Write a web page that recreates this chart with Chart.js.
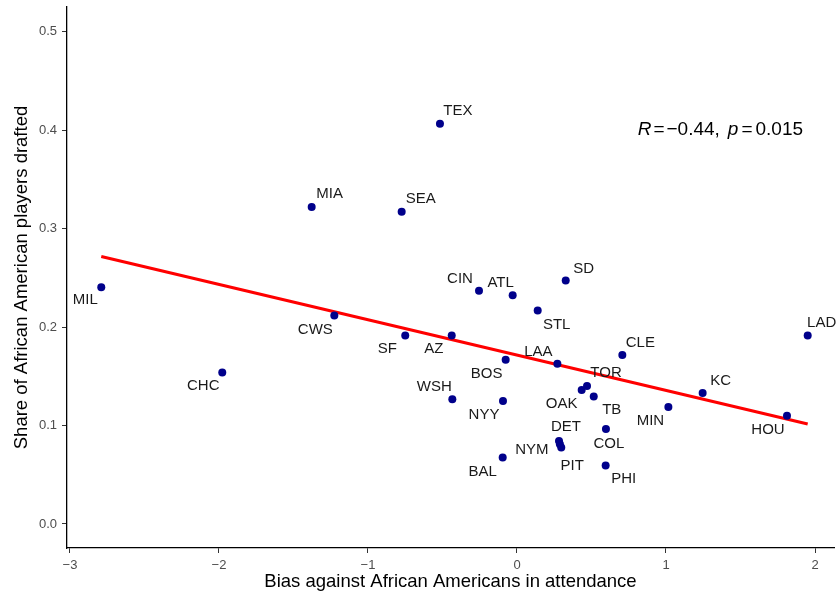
<!DOCTYPE html>
<html>
<head>
<meta charset="utf-8">
<script src="https://cdn.jsdelivr.net/npm/chart.js@4/dist/chart.umd.min.js"></script>
<style>
  html, body { margin: 0; padding: 0; background: #fff; }
  #wrap { width: 838px; height: 596px; position: relative; }
</style>
</head>
<body>
<div id="wrap"><canvas id="scatterChart"></canvas></div>
<script>
// team data
const teams = ['MIL','MIA','SEA','TEX','CIN','ATL','SD','CWS','SF','CHC','AZ','STL','BOS','LAA','CLE',
    'LAD','TOR','OAK','TB','KC','WSH','NYY','MIN','HOU','COL','DET','PIT','NYM','BAL','PHI'];
const bias = [-2.79,-1.378,-0.774,-0.517,-0.255,-0.029,0.327,-1.226,-0.75,-1.978,-0.438,0.139,-0.076,0.271,0.707,
    1.951,0.470,0.434,0.515,1.246,-0.434,-0.094,1.016,1.812,0.597,0.282,0.297,0.288,-0.096,0.595];
const share = [0.2405,0.322,0.317,0.4065,0.2368,0.2324,0.2473,0.2117,0.1914,0.1538,0.1914,0.2168,0.1667,0.1626,0.1717,
    0.1914,0.140,0.136,0.1294,0.1331,0.1267,0.125,0.1189,0.1098,0.0965,0.0843,0.0776,0.081,0.0674,0.0593];

// fitted line end points
const fitX = [-2.79, 1.951];
const fitY = [0.2717, 0.1016];

const xTicks = [-3, -2, -1, 0, 1, 2];
const yTicks = [0.0, 0.1, 0.2, 0.3, 0.4, 0.5];

const statText = { r: '-0.44', p: '0.015' };

// label offsets in pixels (like ggrepel put them)
const labelOffsets = {
    MIL: [-16, 13], MIA: [18, -13], SEA: [19, -13], TEX: [18, -13], CIN: [-19, -12], ATL: [-12, -12],
    SD: [18, -12], CWS: [-19, 14], SF: [-18, 13], CHC: [-19, 13], AZ: [-18, 13], STL: [19, 14],
    BOS: [-19, 14], LAA: [-19, -12], CLE: [18, -12], LAD: [14, -13], TOR: [19, -13], OAK: [-20, 14],
    TB: [18, 13], KC: [18, -12], WSH: [-18, -12], NYY: [-19, 14], MIN: [-18, 14], HOU: [-19, 14],
    COL: [3, 15], DET: [7, -14], PIT: [11, 18], NYM: [-28, 6], BAL: [-20, 14], PHI: [18, 13]
};

const FONT = "'Liberation Sans', Arial, Helvetica, sans-serif";
const minus = s => String(s).replace('-', '\u2212');

const teamLabels = {
    id: 'teamLabels',
    afterDatasetsDraw(chart) {
        const ctx = chart.ctx;
        const meta = chart.getDatasetMeta(1);
        ctx.save();
        ctx.font = '15px ' + FONT;
        ctx.fillStyle = '#1a1a1a';
        ctx.textAlign = 'center';
        ctx.textBaseline = 'middle';
        meta.data.forEach((pt, i) => {
            const off = labelOffsets[teams[i]] || [0, -12];
            ctx.fillText(teams[i], pt.x + off[0], pt.y + off[1]);
        });
        ctx.restore();
    }
};

const statLabel = {
    id: 'statLabel',
    afterDatasetsDraw(chart) {
        const ctx = chart.ctx;
        const xs = chart.scales.x, ys = chart.scales.y;
        let x = xs.getPixelForValue(0.81);
        const y = ys.getPixelForValue(0.40);
        // [text, italic, gap after]
        const parts = [
            ['R', true, 2], ['=', false, 2], [minus(statText.r) + ',', false, 8],
            ['p', true, 3], ['=', false, 3], [statText.p, false, 0]
        ];
        ctx.save();
        ctx.fillStyle = '#000';
        ctx.textBaseline = 'middle';
        ctx.textAlign = 'left';
        parts.forEach(([t, it, gap]) => {
            ctx.font = (it ? 'italic ' : '') + '19px ' + FONT;
            ctx.fillText(t, x, y);
            x += ctx.measureText(t).width + gap;
        });
        ctx.restore();
    }
};

const ctx = document.getElementById('scatterChart').getContext('2d');

new Chart(ctx, {
    type: 'scatter',
    data: {
        datasets: [
            {
                type: 'line',
                label: 'fit',
                data: fitX.map((x, i) => ({ x: x, y: fitY[i] })),
                borderColor: '#ff0000',
                borderWidth: 3,
                pointRadius: 0,
                fill: false,
                order: 2
            },
            {
                label: 'teams',
                data: bias.map((x, i) => ({ x: x, y: share[i] })),
                backgroundColor: '#00008b',
                borderColor: '#00008b',
                borderWidth: 0,
                pointRadius: 4,
                order: 1
            }
        ]
    },
    options: {
        responsive: true,
        maintainAspectRatio: false,
        animation: false,
        layout: { padding: { top: 7, right: 0, left: 0, bottom: 0 } },
        plugins: {
            legend: { display: false },
            tooltip: { enabled: false }
        },
        scales: {
            x: {
                type: 'linear',
                min: -3.02,
                max: 2.1275,
                afterBuildTicks: s => { s.ticks = xTicks.map(v => ({ value: v })); },
                afterFit: s => { s.height = 48; s.paddingLeft = 0; s.paddingRight = 0; },
                border: { display: true, color: '#000', width: 1.3 },
                grid: { display: true, drawOnChartArea: false, drawTicks: true, tickLength: 5, color: '#333' },
                ticks: {
                    color: '#4d4d4d',
                    padding: 5,
                    font: { family: FONT, size: 13 },
                    callback: v => minus(v)
                },
                title: {
                    display: true,
                    text: 'Bias against African Americans in attendance',
                    color: '#000',
                    font: { family: FONT, size: 18.5 },
                    padding: { top: 0, bottom: 3 }
                }
            },
            y: {
                type: 'linear',
                min: -0.0244,
                max: 0.525,
                afterBuildTicks: s => { s.ticks = yTicks.map(v => ({ value: v })); },
                afterFit: s => { s.width = 67; s.paddingTop = 0; s.paddingBottom = 0; },
                border: { display: true, color: '#000', width: 1.3 },
                grid: { display: true, drawOnChartArea: false, drawTicks: true, tickLength: 5, color: '#333' },
                ticks: {
                    color: '#4d4d4d',
                    padding: 5,
                    font: { family: FONT, size: 13 },
                    callback: v => v.toFixed(1)
                },
                title: {
                    display: true,
                    text: 'Share of African American players drafted',
                    color: '#000',
                    font: { family: FONT, size: 18.5 },
                    padding: { top: 11, bottom: 0 }
                }
            }
        }
    },
    plugins: [teamLabels, statLabel]
});
</script>
</body>
</html>
